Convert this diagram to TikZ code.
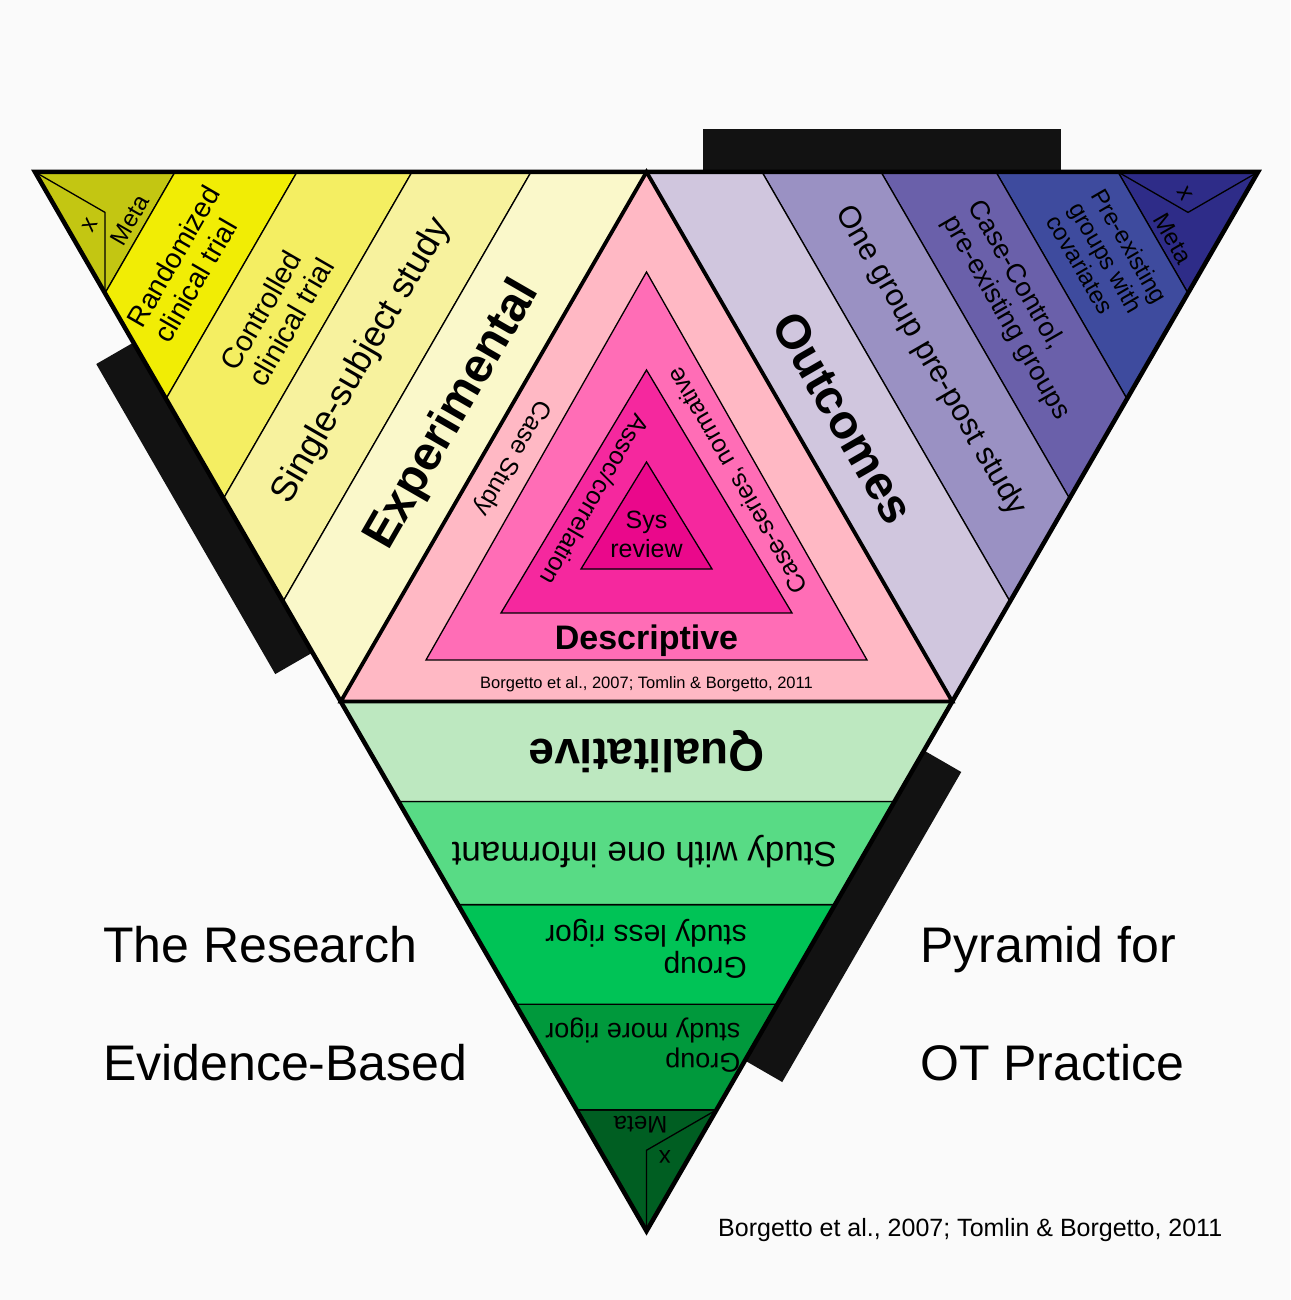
\documentclass[tikz,border=0pt]{standalone}
\usepackage{fontspec}
\setmainfont{Liberation Sans}

\definecolor{pagegray}{HTML}{FAFAFA}
\definecolor{barblack}{HTML}{121212}
% experimental
\definecolor{ymeta}{HTML}{C3C612}
\definecolor{yrct}{HTML}{F1ED05}
\definecolor{yctl}{HTML}{F4EE62}
\definecolor{ysgl}{HTML}{F7F29E}
\definecolor{yexp}{HTML}{FAF8CA}
% outcomes
\definecolor{pmeta}{HTML}{2E2C88}
\definecolor{ppre}{HTML}{3E4B9E}
\definecolor{pcase}{HTML}{6A60AA}
\definecolor{pone}{HTML}{9A91C3}
\definecolor{pout}{HTML}{D0C6DE}
% qualitative
\definecolor{gmeta}{HTML}{005E22}
\definecolor{gmore}{HTML}{00993C}
\definecolor{gless}{HTML}{00C356}
\definecolor{gone}{HTML}{58DB85}
\definecolor{gqual}{HTML}{BDE8C0}
% descriptive
\definecolor{pk1}{HTML}{FFB8C4}
\definecolor{pk2}{HTML}{FF6DB6}
\definecolor{pk3}{HTML}{F5289E}
\definecolor{pk4}{HTML}{EA088B}

\newcommand{\txtsize}[2]{\fontsize{#1}{#2}\selectfont}

\begin{document}
\begin{tikzpicture}[x=1pt,y=1pt,
  stripe/.style={draw=black, line width=1.3pt},
  rim/.style={draw=black, line width=4.5pt, line join=miter},
  lbl/.style={inner sep=0pt, align=left},
  shadowbar/.style={fill=barblack}]
\useasboundingbox (0,0) rectangle (1290,1300);
\fill[pagegray] (0,0) rectangle (1290,1300);

% corners of the big triangle and midpoints of its sides
\coordinate (A) at (35,1128);
\coordinate (B) at (1258,1128);
\coordinate (C) at (646.5,68.9);
\coordinate (AB) at (646.5,1128);
\coordinate (AC) at (340.75,598.45);
\coordinate (BC) at (952.25,598.45);

%Sector: Experimental, corner A
\begin{scope}[shift={(A)},transform shape]
\fill[shadowbar] (668,0) rectangle (1026,43);
\foreach \da/\db/\col in {0/140/ymeta,140/262/yrct,262/377/yctl,377/496/ysgl,496/611.5/yexp}
  \filldraw[stripe,fill=\col] (\da,0) -- (\db,0) -- (-60:\db) -- (-60:\da) -- cycle;
\draw[stripe] (0,0) -- (70,-40.4) -- (-60:140);
\node[lbl,rotate=60,font=\txtsize{24}{26}] (xExp) at (55,-53) {x};
\node[lbl,rotate=60,font=\txtsize{24}{26}] (metaExp) at (95,-48) {Meta};
\node[lbl,rotate=60,font=\txtsize{28}{31}] (rct) at (152,-92) {Randomized\\clinical trial};
\node[lbl,rotate=60,font=\txtsize{29}{32}] (cct) at (242,-142) {Controlled\\clinical trial};
\node[lbl,rotate=60,font=\txtsize{36}{40}] (single) at (327.4,-189) {Single-subject study};
\node[lbl,rotate=60,font=\txtsize{48}{52}\bfseries] (experimental) at (418,-243) {Experimental};
\end{scope}

%Sector: Outcomes, corner B
\begin{scope}[shift={(B)},rotate=-120,transform shape]
\fill[shadowbar] (668,0) rectangle (1026,43);
\foreach \da/\db/\col in {0/140/pmeta,140/262/ppre,262/377/pcase,377/496/pone,496/611.5/pout}
  \filldraw[stripe,fill=\col] (\da,0) -- (\db,0) -- (-60:\db) -- (-60:\da) -- cycle;
\draw[stripe] (0,0) -- (70,-40.4) -- (-60:140);
\node[lbl,rotate=60,font=\txtsize{24}{26}] (xOut) at (55,-53) {x};
\node[lbl,rotate=60,font=\txtsize{24}{26}] (metaOut) at (100,-40) {Meta};
\node[lbl,rotate=60,font=\txtsize{24}{26}] (preexist) at (150.75,-87) {Pre-existing\\groups with\\covariates};
\node[lbl,rotate=60,font=\txtsize{27}{30}] (casectl) at (239.6,-138.3) {Case-Control,\\pre-existing groups};
\node[lbl,rotate=60,font=\txtsize{31}{34}] (onegroup) at (327.4,-189) {One group pre-post study};
\node[lbl,rotate=60,font=\txtsize{48}{52}\bfseries] (outcomes) at (420,-236) {Outcomes};
\end{scope}

%Sector: Qualitative, corner C
\begin{scope}[shift={(C)},rotate=-240,transform shape]
\fill[shadowbar] (668,0) rectangle (1026,43);
\foreach \da/\db/\col in {0/140/gmeta,140/262/gmore,262/377/gless,377/496/gone,496/611.5/gqual}
  \filldraw[stripe,fill=\col] (\da,0) -- (\db,0) -- (-60:\db) -- (-60:\da) -- cycle;
\draw[stripe] (0,0) -- (70,-40.4) -- (-60:140);
\node[lbl,rotate=60,font=\txtsize{24}{26}] (xQual) at (55,-53) {x};
\node[lbl,rotate=60,font=\txtsize{24}{26}] (metaQual) at (95,-48) {Meta};
\node[lbl,rotate=60,font=\txtsize{27}{30}] (moregroup) at (163,-90) {Group\\study more rigor};
\node[lbl,rotate=60,font=\txtsize{30}{32}] (lessgroup) at (245,-141) {Group\\study less rigor};
\node[lbl,rotate=60,font=\txtsize{35}{38}] (informant) at (330,-188) {Study with one informant};
\node[lbl,rotate=60,font=\txtsize{46}{50}\bfseries] (qualitative) at (415.3,-239.8) {Qualitative};
\end{scope}

%Shape: Descriptive triangles
\fill[pk1] (AB) -- (AC) -- (BC) -- cycle;
\filldraw[stripe,fill=pk2] (646.5,1028) -- (426,640) -- (867,640) -- cycle;
\filldraw[stripe,fill=pk3] (646.5,930) -- (501,687) -- (792,687) -- cycle;
\filldraw[stripe,fill=pk4] (646.5,838) -- (581,731) -- (712,731) -- cycle;

%Outlines
\draw[rim,line width=3.8pt] (AB) -- (AC) -- (BC) -- cycle;
\draw[rim] (A) -- (B) -- (C) -- cycle;

% Text Node
\node[lbl,rotate=-120,font=\txtsize{25}{28}] (casestudy) at (512,842) {Case Study};
\node[lbl,rotate=120,font=\txtsize{25}{28}] (caseseries) at (738,820) {Case-series, normative};
\node[lbl,rotate=-120,font=\txtsize{25}{28}] (assoc) at (595,800) {Assoc/correlation};
\node[lbl,align=center,font=\txtsize{25}{29}] (sysreview) at (646.5,766) {Sys\\review};
\node[inner sep=0pt,anchor=base,font=\txtsize{34}{38}\bfseries] (descriptive) at (646.5,650) {Descriptive};
\node[inner sep=0pt,anchor=base,font=\txtsize{16.5}{18}] (citeinner) at (646.5,611) {Borgetto et al., 2007; Tomlin \& Borgetto, 2011};

% Text Node
\node[inner sep=0pt,anchor=base west,font=\txtsize{50}{55}] (titleA) at (103,337.5) {The Research};
\node[inner sep=0pt,anchor=base west,font=\txtsize{50}{55}] (titleB) at (103,219.5) {Evidence-Based};
\node[inner sep=0pt,anchor=base west,font=\txtsize{50}{55}] (titleC) at (920,337.5) {Pyramid for};
\node[inner sep=0pt,anchor=base west,font=\txtsize{50}{55}] (titleD) at (920,219.5) {OT Practice};
\node[inner sep=0pt,anchor=base west,font=\txtsize{25}{28}] (citeouter) at (718,63) {Borgetto et al., 2007; Tomlin \& Borgetto, 2011};
\end{tikzpicture}
\end{document}
